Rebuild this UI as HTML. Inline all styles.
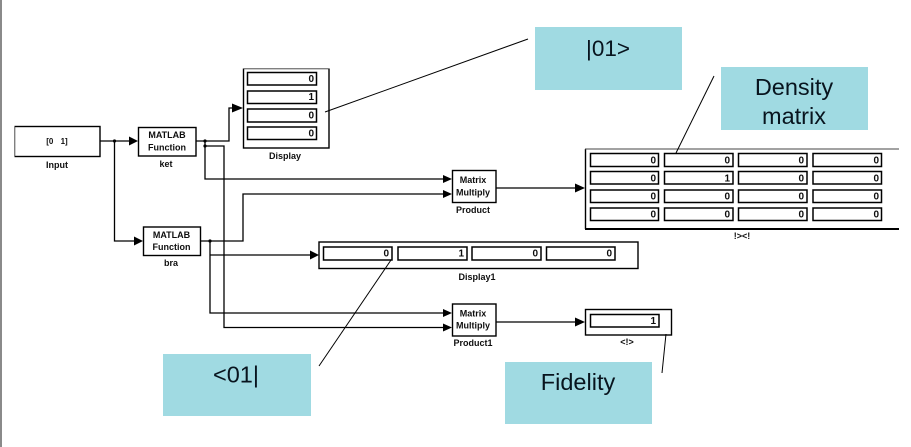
<!DOCTYPE html>
<html>
<head>
<meta charset="utf-8">
<style>
html,body{margin:0;padding:0;background:#fff}
svg{display:block}
.s{font-family:"Liberation Sans",sans-serif;font-size:9px;font-weight:bold;fill:#111;text-anchor:middle}
.n{font-family:"Liberation Sans",sans-serif;font-size:10px;font-weight:bold;fill:#111;text-anchor:end}
.c{font-family:"Liberation Sans",sans-serif;font-size:23.5px;fill:#08141e;text-anchor:middle}
</style>
</head>
<body>
<svg width="911" height="447" viewBox="0 0 911 447" xmlns="http://www.w3.org/2000/svg">
<defs><filter id="b" x="0" y="0" width="100%" height="100%"><feGaussianBlur stdDeviation="0.3"/></filter></defs>
<rect x="0" y="0" width="911" height="447" fill="#fff"/>
<rect x="0" y="0" width="2" height="447" fill="#8a8a8a"/>
<g filter="url(#b)">
<g fill="none" stroke="#000" stroke-width="1.4">
<rect x="14.5" y="126.5" width="85.5" height="30"/>
<rect x="138.5" y="127.5" width="57.5" height="28.5"/>
<rect x="143.5" y="227" width="57" height="28.5"/>
<rect x="243.5" y="68.5" width="85.5" height="79.5"/>
<rect x="319" y="242" width="319" height="26.5"/>
<rect x="452.5" y="170.5" width="43.5" height="32"/>
<rect x="452.5" y="304" width="43.5" height="32"/>
<path d="M585.5 149V229" stroke-width="1.4"/>
<path d="M585 149H899" stroke="#444" stroke-width="1.1"/>
<path d="M585 229H899" stroke-width="2"/>
<rect x="585.5" y="309.5" width="86" height="25.5"/>
</g>
<g fill="none" stroke="#000" stroke-width="1.5">
<rect x="247.5" y="72.5" width="69" height="12.5"/>
<rect x="247.5" y="91" width="69" height="12.5"/>
<rect x="247.5" y="109" width="69" height="13"/>
<rect x="247.5" y="127" width="69" height="12.5"/>
<rect x="323.5" y="247" width="68.5" height="13"/>
<rect x="398" y="247" width="69" height="13"/>
<rect x="472" y="247" width="69" height="13"/>
<rect x="546.5" y="247" width="68.5" height="13"/>
<rect x="590.5" y="314.5" width="68.5" height="12.5"/>
<rect x="590.5" y="153.5" width="68" height="13"/><rect x="664.5" y="153.5" width="68.5" height="13"/><rect x="738.5" y="153.5" width="68.5" height="13"/><rect x="813" y="153.5" width="68.5" height="13"/>
<rect x="590.5" y="171.5" width="68" height="12.5"/><rect x="664.5" y="171.5" width="68.5" height="12.5"/><rect x="738.5" y="171.5" width="68.5" height="12.5"/><rect x="813" y="171.5" width="68.5" height="12.5"/>
<rect x="590.5" y="190" width="68" height="12.5"/><rect x="664.5" y="190" width="68.5" height="12.5"/><rect x="738.5" y="190" width="68.5" height="12.5"/><rect x="813" y="190" width="68.5" height="12.5"/>
<rect x="590.5" y="208" width="68" height="12.5"/><rect x="664.5" y="208" width="68.5" height="12.5"/><rect x="738.5" y="208" width="68.5" height="12.5"/><rect x="813" y="208" width="68.5" height="12.5"/>
</g>
<g fill="none" stroke="#000" stroke-width="1.3">
<path d="M100 141H130"/>
<path d="M114.5 141V241H135"/>
<path d="M196 141H229V108H235"/>
<path d="M205 141V179H444"/>
<path d="M205 146H224V327.500H444"/>
<path d="M200.500 241H243V194H444"/>
<path d="M210 241V313H444"/>
<path d="M210 255H311"/>
<path d="M496 188H577"/>
<path d="M496 322H577"/>
</g>
<g fill="#000">
<path d="M138 141l-9-4.500v9z"/>
<path d="M143 241l-9-4.500v9z"/>
<path d="M243 108l-11-4.500v9z"/>
<path d="M452 179l-9-4v8z"/>
<path d="M452 194l-9-4v8z"/>
<path d="M452 313l-9-4v8z"/>
<path d="M452 327.500l-9-4v8z"/>
<path d="M319 255l-9-4.500v9z"/>
<path d="M585 188l-10-4.500v9z"/>
<path d="M585 322l-10-4.500v9z"/>
<circle cx="114.500" cy="141" r="1.600"/>
<circle cx="205" cy="141" r="1.600"/>
<circle cx="205" cy="146" r="1.600"/>
<circle cx="210" cy="241" r="1.600"/>
</g>
<g>
<text class="s" x="57" y="144" style="font-size:8px;word-spacing:5px">[0 1]</text>
<text class="s" x="57" y="168">Input</text>
<text class="s" x="167" y="138">MATLAB</text>
<text class="s" x="167" y="150.500">Function</text>
<text class="s" x="166" y="167">ket</text>
<text class="s" x="171.500" y="238">MATLAB</text>
<text class="s" x="171.500" y="250">Function</text>
<text class="s" x="171" y="266">bra</text>
<text class="s" x="285" y="159">Display</text>
<text class="s" x="477" y="280">Display1</text>
<text class="s" x="473" y="183">Matrix</text>
<text class="s" x="473" y="195.500">Multiply</text>
<text class="s" x="473" y="213">Product</text>
<text class="s" x="473" y="316.500">Matrix</text>
<text class="s" x="473" y="328.500">Multiply</text>
<text class="s" x="473" y="346">Product1</text>
<text class="s" x="742" y="239">!&gt;&lt;!</text>
<text class="s" x="627" y="345">&lt;!&gt;</text>
</g>
<g>
<text class="n" x="314" y="82">0</text><text class="n" x="314" y="100">1</text><text class="n" x="314" y="118.500">0</text><text class="n" x="314" y="136.500">0</text>
<text class="n" x="389" y="256.500">0</text><text class="n" x="464" y="256.500">1</text><text class="n" x="538" y="256.500">0</text><text class="n" x="612" y="256.500">0</text>
<text class="n" x="656" y="324">1</text>
<text class="n" x="656" y="163.500">0</text><text class="n" x="730" y="163.500">0</text><text class="n" x="804" y="163.500">0</text><text class="n" x="879" y="163.500">0</text>
<text class="n" x="656" y="181.500">0</text><text class="n" x="730" y="181.500">1</text><text class="n" x="804" y="181.500">0</text><text class="n" x="879" y="181.500">0</text>
<text class="n" x="656" y="199.500">0</text><text class="n" x="730" y="199.500">0</text><text class="n" x="804" y="199.500">0</text><text class="n" x="879" y="199.500">0</text>
<text class="n" x="656" y="217.500">0</text><text class="n" x="730" y="217.500">0</text><text class="n" x="804" y="217.500">0</text><text class="n" x="879" y="217.500">0</text>
</g>
</g>
<g fill="#a0dae2">
<rect x="535" y="27" width="147" height="63"/>
<rect x="721" y="67" width="147" height="63"/>
<rect x="163" y="354" width="148" height="62"/>
<rect x="505" y="362" width="147" height="62"/>
</g>
<g stroke="#000" stroke-width="1" fill="none">
<path d="M325 112L528 39"/>
<path d="M714 76L676 153"/>
<path d="M391 260L319 366"/>
<path d="M666 334L662 373"/>
</g>
<text class="c" x="608" y="56" style="font-size:22.5px">|01&gt;</text>
<text class="c" x="794" y="95">Density</text>
<text class="c" x="794" y="124">matrix</text>
<text class="c" x="236" y="382.500">&lt;01|</text>
<text class="c" x="578" y="390">Fidelity</text>
</svg>
</body>
</html>
